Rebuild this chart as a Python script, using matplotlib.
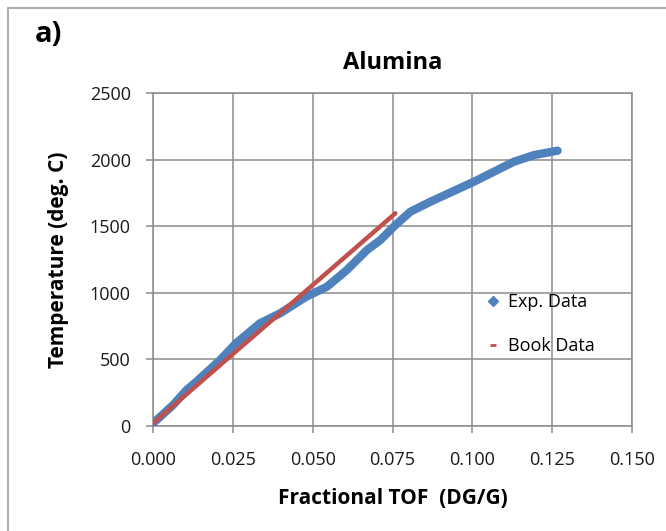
import matplotlib
matplotlib.use("Agg")
import matplotlib.pyplot as plt
from matplotlib.lines import Line2D
from matplotlib.patches import Rectangle
import numpy as np

plt.rcParams['font.family'] = ['Open Sans', 'DejaVu Sans']

exp_tof = [0.0, 0.0063, 0.0105, 0.0136, 0.021, 0.026, 0.0335, 0.0398, 0.048,
           0.0545, 0.0607, 0.067, 0.0712, 0.0754, 0.0806, 0.0869, 0.1005,
           0.113, 0.1193, 0.1267]
exp_temp = [20, 158, 270, 333, 495, 621, 771, 846, 971,
            1046, 1171, 1321, 1396, 1497, 1609, 1684, 1834,
            1984, 2034, 2067]

# book data
book_tof = [0.0, 0.025, 0.05, 0.0759]
book_temp = [20, 540, 1058, 1597]

blue = '#4F81BD'
red = '#C0504D'
grid_c = '#8C8C8C'

fig = plt.figure(figsize=(6.66, 5.31), dpi=100)
ax = fig.add_axes([153/666, 1-426/531, (632-153)/666, (426-93)/531])

ax.plot(exp_tof, exp_temp, color=blue, lw=6, solid_capstyle='round',
        solid_joinstyle='round', zorder=3)
ax.plot(book_tof, book_temp, color=red, lw=3.2, solid_capstyle='round', zorder=4)

ax.set_xlim(0, 0.15)
ax.set_ylim(0, 2500)
ax.set_xticks(np.arange(0, 0.1501, 0.025))
ax.set_xticklabels(['%.3f' % v for v in np.arange(0, 0.1501, 0.025)])
ax.set_yticks(np.arange(0, 2501, 500))
ax.grid(True, color=grid_c, lw=1.1)
ax.set_axisbelow(True)
for s in ax.spines.values():
    s.set_color(grid_c)
    s.set_linewidth(1.1)
ax.tick_params(axis='both', colors=grid_c, labelcolor='#1a1a1a', labelsize=13,
               length=5, width=1.1)
ax.tick_params(axis='x', pad=13)
ax.tick_params(axis='y', pad=11)

ax.set_title('Alumina', fontsize=17, fontweight='bold', pad=17)
ax.set_xlabel('Fractional TOF  (DG/G)', fontsize=15, fontweight='bold', labelpad=14)
ax.set_ylabel('Temperature (deg. C)', fontsize=15, fontweight='bold', labelpad=15)

handles = [Line2D([], [], color=blue, marker='D', markersize=5, ls='none'),
           Line2D([], [], color=red, marker='_', markersize=5, mew=2, ls='none')]
fig.legend(handles, ['Exp. Data', 'Book Data'], loc='upper left',
           bbox_to_anchor=(466/666, 1-277/531), frameon=False, fontsize=13,
           labelspacing=1.45, handletextpad=0.2, handlelength=1.2)

fig.text(35/666, 1-34/531, 'a)', fontsize=21, fontweight='bold', va='center')
fig.patches.append(Rectangle((8/666, -0.1), 1.2, 1.1 - 8/531,
                             transform=fig.transFigure, fill=False,
                             edgecolor='#B0B0B0', lw=1.5))

plt.savefig('out.png', dpi=100)
